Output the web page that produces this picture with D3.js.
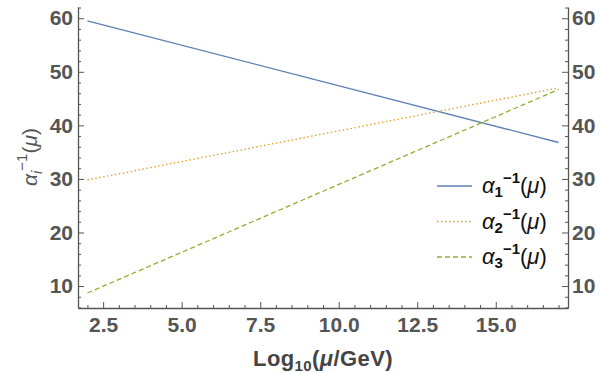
<!DOCTYPE html>
<html>
<head>
<meta charset="utf-8">
<script src="https://cdn.jsdelivr.net/npm/d3@7"></script>
<style>
  body { margin: 0; background: #fff; }
  svg { display: block; }
  .tick text { font-family: "Liberation Sans", Arial, sans-serif; font-weight: bold; font-size: 21px; fill: #555; }
  .domain, .tick line { stroke: #555; }
</style>
</head>
<body>
<svg id="chart" width="600" height="373"></svg>
<script>
// endpoints of the (straight) running couplings
const logMu = [2, 17];
const alpha1 = [59.5, 36.8];
const alpha2 = [29.8, 47.0];
const alpha3 = [8.7, 46.7];

const xTicks = [2.5, 5.0, 7.5, 10.0, 12.5, 15.0];
const xMinor = [2, 3, 3.5, 4, 4.5, 5.5, 6, 6.5, 7, 8, 8.5, 9, 9.5, 10.5, 11, 11.5, 12, 13, 13.5, 14, 14.5, 15.5, 16, 16.5, 17];
const yTicks = [10, 20, 30, 40, 50, 60];
const yMinor = [6, 8, 12, 14, 16, 18, 22, 24, 26, 28, 32, 34, 36, 38, 42, 44, 46, 48, 52, 54, 56, 58, 62];

const series = [
  { name: "1", values: alpha1, color: "#5E81B5", dash: null },
  { name: "2", values: alpha2, color: "#E19C24", dash: "1.5,2.5" },
  { name: "3", values: alpha3, color: "#8FB032", dash: "5,3" }
];

const plotLeft = 78, plotRight = 568, plotTop = 7, plotBottom = 308;

const svg = d3.select("#chart");

const x = d3.scaleLinear().domain([1.7, 17.3]).range([plotLeft, plotRight]);
const y = d3.scaleLinear().domain([5.9, 62.1]).range([plotBottom, plotTop]);

// bottom axis
svg.append("g")
  .attr("transform", "translate(0," + plotBottom + ")")
  .call(d3.axisBottom(x).tickValues(xTicks).tickFormat(d3.format(".1f"))
    .tickSize(-6).tickSizeOuter(0).tickPadding(9));
svg.append("g")
  .attr("transform", "translate(0," + plotBottom + ")")
  .call(d3.axisBottom(x).tickValues(xMinor).tickFormat("").tickSize(-3).tickSizeOuter(0))
  .select(".domain").remove();

// left axis
svg.append("g")
  .attr("transform", "translate(" + plotLeft + ",0)")
  .call(d3.axisLeft(y).tickValues(yTicks).tickSize(-6).tickSizeOuter(0).tickPadding(5));
svg.append("g")
  .attr("transform", "translate(" + plotLeft + ",0)")
  .call(d3.axisLeft(y).tickValues(yMinor).tickFormat("").tickSize(-3).tickSizeOuter(0))
  .select(".domain").remove();

// right axis
svg.append("g")
  .attr("transform", "translate(" + plotRight + ",0)")
  .call(d3.axisRight(y).tickValues(yTicks).tickSize(-6).tickSizeOuter(0).tickPadding(4));
svg.append("g")
  .attr("transform", "translate(" + plotRight + ",0)")
  .call(d3.axisRight(y).tickValues(yMinor).tickFormat("").tickSize(-3).tickSizeOuter(0))
  .select(".domain").remove();

svg.selectAll(".domain").attr("stroke-width", 1.3);

// lines
const line = d3.line().x((d, i) => x(logMu[i])).y(d => y(d));
series.forEach(s => {
  svg.append("path")
    .datum(s.values)
    .attr("d", line)
    .attr("fill", "none")
    .attr("stroke", s.color)
    .attr("stroke-width", 1.3)
    .attr("stroke-dasharray", s.dash);
});

// x label
const xl = svg.append("text")
  .attr("x", 323).attr("y", 366)
  .attr("text-anchor", "middle")
  .style("font-family", "Liberation Sans, Arial, sans-serif")
  .style("letter-spacing", "0.4px")
  .style("font-weight", "bold").style("font-size", "22px").attr("fill", "#444");
xl.append("tspan").text("Log");
xl.append("tspan").attr("dy", 5).style("font-size", "15px").text("10");
xl.append("tspan").attr("dy", -5).text("(");
xl.append("tspan").style("font-style", "italic").text("\u03bc");
xl.append("tspan").text("/GeV)");

// y label
const yl = svg.append("text")
  .attr("transform", "translate(37,157) rotate(-90)")
  .attr("text-anchor", "middle")
  .style("font-family", "Liberation Sans, Arial, sans-serif")
  .style("font-size", "21px").attr("fill", "#555");
yl.append("tspan").style("font-style", "italic").text("\u03b1");
yl.append("tspan").attr("dy", 5).style("font-size", "15px").style("font-style", "italic").text("i");
yl.append("tspan").attr("dy", -15).style("font-size", "15px").text("\u22121");
yl.append("tspan").attr("dy", 10).text("(");
yl.append("tspan").style("font-style", "italic").text("\u03bc");
yl.append("tspan").text(")");

// legend
const legend = svg.append("g");
series.forEach((s, i) => {
  const ly = 186 + i * 35.5;
  legend.append("line")
    .attr("x1", 437).attr("x2", 472).attr("y1", ly).attr("y2", ly)
    .attr("stroke", s.color).attr("stroke-width", 1.3)
    .attr("stroke-dasharray", s.dash);
  const t = legend.append("text")
    .attr("x", 482).attr("y", ly + 7)
    .style("font-family", "Liberation Sans, Arial, sans-serif")
    .style("font-size", "22px").attr("fill", "#111");
  t.append("tspan").style("font-style", "italic").text("\u03b1");
  t.append("tspan").attr("dy", 4).style("font-size", "15px").style("font-weight", "bold").text(s.name);
  t.append("tspan").attr("dy", -14).style("font-size", "15px").style("font-weight", "bold").text("\u22121");
  t.append("tspan").attr("dy", 10).text("(");
  t.append("tspan").style("font-style", "italic").text("\u03bc");
  t.append("tspan").text(")");
});
</script>
</body>
</html>
